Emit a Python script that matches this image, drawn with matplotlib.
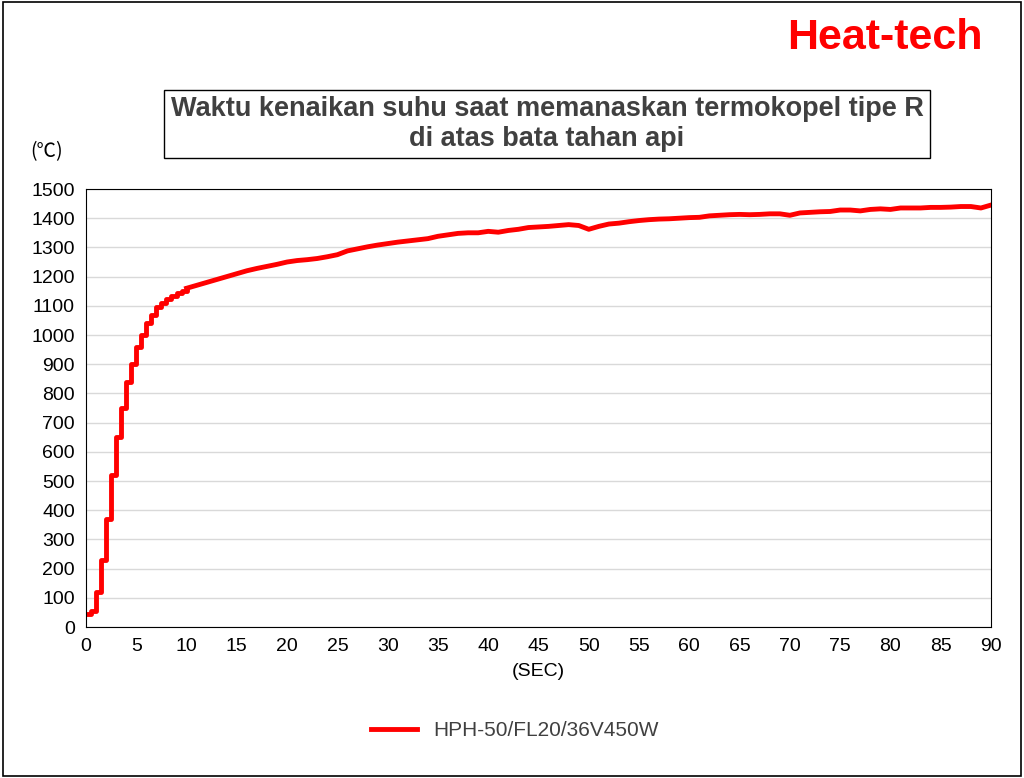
import matplotlib
matplotlib.use("Agg")
import matplotlib.pyplot as plt
from matplotlib.patches import Rectangle

plt.rcParams['font.family'] = ['Liberation Sans', 'DejaVu Sans']

t_early = [0,0.5,1,1.5,2,2.5,3,3.5,4,4.5,5,5.5,6,6.5,7,7.5,8,8.5,9,9.5,10]
v_early = [45,55,120,230,370,520,650,750,840,900,960,1000,1040,1070,1095,1110,1125,1135,1145,1152,1160]
t_late = list(range(11,91))
v_late = [1170,1180,1190,1200,1210,1220,1228,1235,1242,1250,1255,1258,1262,1268,1275,1288,1295,1302,1308,1313,
          1318,1322,1326,1330,1338,1343,1348,1350,1350,1355,1352,1358,1362,1368,1370,1372,1375,1378,1375,1362,
          1372,1380,1383,1388,1392,1395,1397,1398,1400,1402,1403,1408,1410,1412,1413,1412,1413,1415,1415,1410,
          1418,1420,1422,1423,1428,1428,1425,1430,1432,1430,1435,1435,1435,1437,1437,1438,1440,1440,1435,1445]
series_name = "HPH-50/FL20/36V450W"

fig = plt.figure(figsize=(10.24,7.78), dpi=100)
fig.patches.append(Rectangle((0.003,0.003),0.994,0.994, transform=fig.transFigure, fill=False, ec='black', lw=1.2))
ax = fig.add_axes([86/1024, 1-627/778, 905/1024, 438/778])
ax.step(t_early, v_early, where='post', color='red', lw=3.5, solid_joinstyle='round')
ax.plot([t_early[-1]] + t_late, [v_early[-1]] + v_late, color='red', lw=3.5, label=series_name,
        solid_joinstyle='round')
ax.set_xlim(0,90); ax.set_ylim(0,1500)
ax.set_xticks(range(0,91,5)); ax.set_yticks(range(0,1501,100))
ax.grid(axis='y', color='#d9d9d9', lw=1)
ax.set_axisbelow(True)
for s in ax.spines.values(): s.set_color('black')
ax.tick_params(length=0, labelsize=14, pad=8)
ax.set_xlabel("(SEC)", fontsize=14, labelpad=6)
fig.text(30/1024, 1-152/778, "(℃)", fontsize=14, va='center', family=['Noto Sans CJK JP','DejaVu Sans'])
fig.text(547/1024, 1-124/778, "Waktu kenaikan suhu saat memanaskan termokopel tipe R\ndi atas bata tahan api",
         ha='center', va='center', fontsize=19.5, fontweight='bold', color='#404040', linespacing=1.15,
         bbox=dict(boxstyle='square,pad=0.25', fc='white', ec='black', lw=1))
fig.text(983/1024, 1-38/778, "Heat-tech", ha='right', va='center', fontsize=31, fontweight='bold',
         color='red')
fig.legend(loc='center', bbox_to_anchor=(515/1024, 1-731/778), frameon=False, fontsize=15,
           handlelength=2.2, labelcolor='#404040')
fig.savefig("out.png", dpi=100)
